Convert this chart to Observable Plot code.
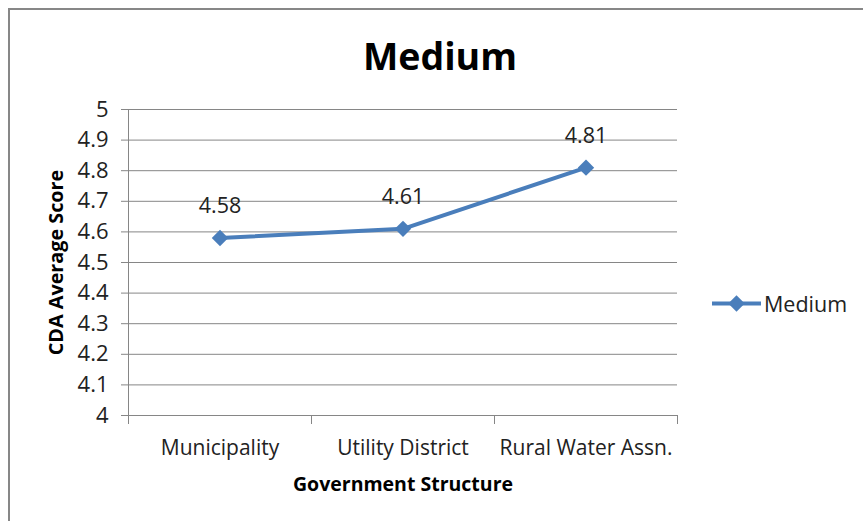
<!DOCTYPE html>
<html>
<head>
<meta charset="utf-8">
<script src="https://cdn.jsdelivr.net/npm/d3@7"></script>
<script src="https://cdn.jsdelivr.net/npm/@observablehq/plot@0.6"></script>
<style>
  html, body { margin: 0; padding: 0; background: #fff; }
  #wrap { position: relative; width: 863px; height: 521px; overflow: hidden; font-family: "Open Sans", sans-serif; }
  #frame { position: absolute; left: 8px; top: 8px; width: 900px; height: 600px;
           border: 2px solid #878787; box-sizing: border-box; }
  #chart { position: absolute; left: 0; top: 0; }
  #title { position: absolute; left: 440px; top: 55px; transform: translate(-50%, -50%);
           font-size: 37.5px; font-weight: bold; color: #000; white-space: nowrap; }
  #legend { position: absolute; left: 711px; top: 303px; transform: translateY(-50%);
            display: flex; align-items: center; font-size: 21.5px; color: #222; }
  #legend svg { display: block; margin-right: 2px; }
</style>
</head>
<body>
<div id="wrap">
  <div id="frame"></div>
  <div id="chart"></div>
  <div id="title"></div>
  <div id="legend"></div>
</div>
<script>
// Average CDA score by government structure, "Medium" group
const categories = ["Municipality", "Utility District", "Rural Water Assn."];
const scores = [4.58, 4.61, 4.81];
const seriesName = "Medium";
const yTickValues = [4, 4.1, 4.2, 4.3, 4.4, 4.5, 4.6, 4.7, 4.8, 4.9, 5];
const yLabel = "CDA Average Score";
const xLabel = "Government Structure";

const blue = "#4A7EBB";
const grid = "#868686";
const markerR = 7.4;

// each category sits in the middle of its slot on a continuous x axis
const rows = categories.map((c, i) => ({category: c, pos: i + 0.5, score: scores[i]}));
const slotEdges = d3.range(categories.length + 1);
const slotCenters = categories.map((c, i) => i + 0.5);

const chart = Plot.plot({
  width: 863,
  height: 521,
  marginLeft: 128,
  marginRight: 186,
  marginTop: 109,
  marginBottom: 106,
  style: {fontFamily: "Open Sans, sans-serif", color: "#222", background: "transparent"},
  x: {type: "linear", domain: [0, categories.length]},
  y: {domain: [4, 5]},
  marks: [
    Plot.ruleY(yTickValues, {stroke: grid, strokeWidth: 1}),
    Plot.ruleX([0], {y1: 4, y2: 5, stroke: grid}),
    Plot.axisY({ticks: yTickValues, tickSize: 7, tickPadding: 13, tickFormat: d => String(d),
                stroke: grid, fontSize: 22, fill: "#222", label: null}),
    Plot.axisX({ticks: slotEdges, tickSize: 9, tickFormat: () => "", stroke: grid, label: null}),
    Plot.axisX({ticks: slotCenters, tickSize: 0, tickPadding: 25,
                tickFormat: d => categories[Math.floor(d)], fontSize: 21, fill: "#222", label: null}),
    Plot.text([yLabel], {frameAnchor: "left", textAnchor: "middle", lineAnchor: "middle",
                         dx: -72, rotate: -90, fontSize: 19.8, fontWeight: "bold", fill: "#000"}),
    Plot.text([xLabel], {frameAnchor: "bottom", textAnchor: "middle", lineAnchor: "middle",
                         dy: 69, fontSize: 19.5, fontWeight: "bold", fill: "#000"}),
    Plot.line(rows, {x: "pos", y: "score", stroke: blue, strokeWidth: 4}),
    Plot.dot(rows, {x: "pos", y: "score", symbol: "diamond2", r: markerR, fill: blue, stroke: null}),
    Plot.text(rows, {x: "pos", y: "score", text: d => String(d.score), dy: -32, fontSize: 21.5, fill: "#222"})
  ]
});
document.getElementById("chart").appendChild(chart);

document.getElementById("title").textContent = seriesName;

// legend: line with a diamond marker, then the series name
const legend = document.getElementById("legend");
const sw = d3.create("svg").attr("width", 51).attr("height", 18);
sw.append("line").attr("x1", 1).attr("x2", 50).attr("y1", 9).attr("y2", 9)
  .attr("stroke", blue).attr("stroke-width", 4);
sw.append("path").attr("transform", "translate(25.5,9)")
  .attr("d", d3.symbol(d3.symbolDiamond2, Math.PI * markerR * markerR)()).attr("fill", blue);
legend.appendChild(sw.node());
const lt = document.createElement("span");
lt.textContent = seriesName;
legend.appendChild(lt);
</script>
</body>
</html>
